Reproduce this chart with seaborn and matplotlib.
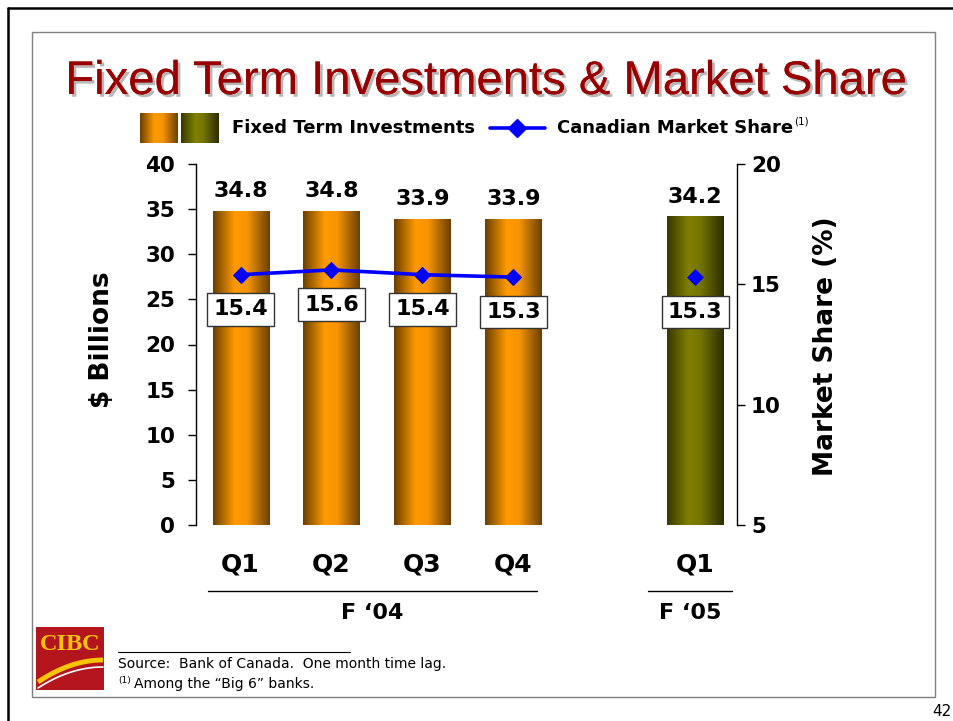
import numpy as np
import pandas as pd
import matplotlib
matplotlib.use('Agg')
import matplotlib.pyplot as plt
import seaborn as sns
from matplotlib.colors import LinearSegmentedColormap
from matplotlib.lines import Line2D
from matplotlib.patches import Rectangle
import matplotlib.patheffects as pe
import matplotlib.transforms as mtransforms

# ---------------- data ----------------
quarters = ['Q1', 'Q2', 'Q3', 'Q4', 'Q1']
positions = [0, 1, 2, 3, 5]
bar_period = ['F04', 'F04', 'F04', 'F04', 'F05']
investments = [34.8, 34.8, 33.9, 33.9, 34.2]
share_positions = [0, 1, 2, 3]
market_share = [15.4, 15.6, 15.4, 15.3]
share_positions_05 = [5]
market_share_05 = [15.3]
group_labels = ['F \u201804', 'F \u201805']
group_centers = [1.45, 4.94]
group_spans = [(-0.36, 3.26), (4.48, 5.40)]

# ---------------- style ----------------
sns.set_theme(style='white')
plt.rcParams['font.family'] = ['DejaVu Sans']
plt.rcParams['text.color'] = 'black'
plt.rcParams['axes.labelcolor'] = 'black'
plt.rcParams['xtick.color'] = 'black'
plt.rcParams['ytick.color'] = 'black'

W, H = 954, 721
fig = plt.figure(figsize=(W / 100, H / 100), dpi=100)
fig.patch.set_facecolor('white')


def fx(px):
    return px / W


def fy(py):
    return 1 - py / H


orange_cmap = LinearSegmentedColormap.from_list(
    'orng', [(0, '#6a3f00'), (0.38, '#ff9a00'), (0.6, '#f79400'), (1, '#6a3f00')])
olive_cmap = LinearSegmentedColormap.from_list(
    'olv', [(0, '#383800'), (0.38, '#808000'), (0.58, '#767600'), (1, '#2c2c00')])
cmaps = {'F04': orange_cmap, 'F05': olive_cmap}
grad = np.linspace(0, 1, 256).reshape(1, -1)

ax = fig.add_axes([fx(196), fy(525), fx(737) - fx(196), fy(164) - fy(525)])
df = pd.DataFrame({'pos': positions, 'val': investments})
sns.barplot(data=df, x='pos', y='val', native_scale=True, width=0.616,
            errorbar=None, color='#ff9900', saturation=1, ax=ax)

for patch, per in zip(ax.patches, bar_period):
    x0 = patch.get_x()
    w = patch.get_width()
    h = patch.get_height()
    patch.set_edgecolor('none')
    im = ax.imshow(grad, cmap=cmaps[per], extent=[x0, x0 + w, 0, h],
                   aspect='auto', zorder=patch.get_zorder() + 0.1,
                   interpolation='bicubic')
    im.set_clip_path(patch)

ax.set_xlim(-0.49, 5.46)
ax.set_ylim(0, 40)

for p, v in zip(positions, investments):
    ax.annotate(f'{v:.1f}', (p, v), xytext=(0, 7), textcoords='offset points',
                ha='center', va='bottom', fontsize=16, fontweight='bold',
                color='black')

ax.set_yticks(range(0, 45, 5))
ax.set_yticklabels([str(v) for v in range(0, 45, 5)], fontsize=15.5,
                   fontweight='bold')
ax.set_xticks(positions)
ax.set_xticklabels(quarters, fontsize=18, fontweight='bold')
ax.tick_params(axis='x', length=0, pad=20, bottom=False)
ax.tick_params(axis='y', left=True, direction='out', length=6, width=1,
               color='black', pad=9)
ax.set_xlabel('')
ax.set_ylabel('$ Billions', fontsize=19, fontweight='bold')
ax.yaxis.set_label_coords(-0.15, 0.512)
for s in ['top', 'right', 'bottom']:
    ax.spines[s].set_visible(False)
ax.spines['left'].set_color('black')
ax.spines['left'].set_linewidth(1)

# ---------------- secondary axis ----------------
ax2 = ax.twinx()
sns.lineplot(x=share_positions, y=market_share, ax=ax2, color='#0000ff',
             marker='D', markersize=8, linewidth=2.6, markeredgecolor='#0000ff')
sns.scatterplot(x=share_positions_05, y=market_share_05, ax=ax2,
                color='#0000ff', marker='D', s=64, edgecolor='#0000ff')
ax2.set_ylim(5, 20)
ax2.set_xlim(-0.49, 5.46)
ax2.set_yticks([5, 10, 15, 20])
ax2.set_yticklabels(['5', '10', '15', '20'], fontsize=15.5, fontweight='bold')
ax2.tick_params(axis='y', right=True, direction='out', length=6, width=1,
                color='black', pad=4)
ax2.set_ylabel('Market Share (%)', fontsize=19, fontweight='bold')
ax2.yaxis.set_label_coords(1.14, 0.494)
for s in ['top', 'left', 'bottom']:
    ax2.spines[s].set_visible(False)
ax2.spines['right'].set_color('black')
ax2.spines['right'].set_linewidth(1)

for p, v in zip(share_positions + share_positions_05, market_share + market_share_05):
    ax2.annotate(f'{v:.1f}', (p, v), xytext=(0, -25), textcoords='offset points',
                 ha='center', va='center', fontsize=16, fontweight='bold',
                 color='black', zorder=6,
                 bbox=dict(boxstyle='square,pad=0.28', fc='white', ec='#333333', lw=1))

# group brackets
trans = mtransforms.blended_transform_factory(ax.transData, ax.transAxes)
for lab, c, (a, b) in zip(group_labels, group_centers, group_spans):
    ax.plot([a, b], [-0.183, -0.183], transform=trans, color='black', lw=1,
            clip_on=False)
    ax.text(c, -0.244, lab, transform=trans, ha='center', va='center',
            fontsize=16, fontweight='bold', color='black')

# ---------------- title ----------------
fig.text(fx(486), fy(82), 'Fixed Term Investments & Market Share', ha='center',
         va='center', fontsize=34, color='#990000', family='Liberation Sans',
         path_effects=[pe.withSimplePatchShadow(offset=(2, -2),
                                                shadow_rgbFace='#999999', alpha=0.7),
                       pe.Normal()])

# ---------------- legend ----------------
for (x0, x1), cm in zip([(140, 178), (181, 219)], [orange_cmap, olive_cmap]):
    lax = fig.add_axes([fx(x0), fy(143), fx(x1) - fx(x0), fy(113) - fy(143)])
    lax.imshow(grad, cmap=cm, aspect='auto', interpolation='bicubic')
    lax.axis('off')
fig.text(fx(232), fy(128), 'Fixed Term Investments', ha='left', va='center',
         fontsize=13, fontweight='bold')
fig.add_artist(Line2D([fx(490), fx(545)], [fy(128), fy(128)], color='#0000ff',
                      lw=2.6, transform=fig.transFigure))
fig.add_artist(Line2D([fx(517)], [fy(128)], color='#0000ff', marker='D', ms=9,
                      transform=fig.transFigure))
t_cms = fig.text(fx(557), fy(128), 'Canadian Market Share', ha='left',
                 va='center', fontsize=13, fontweight='bold')
fig.canvas.draw()
r = fig.canvas.get_renderer()
bb = t_cms.get_window_extent(r)
fig.text(bb.x1 / W + fx(1), fy(121), '(1)', ha='left', va='center', fontsize=7.5)

# ---------------- footer ----------------
fig.add_artist(Rectangle((fx(36), fy(690)), fx(104) - fx(36), fy(627) - fy(690),
                         transform=fig.transFigure, fc='#b4151c', ec='none'))
fig.text(fx(70), fy(645), 'CIBC', ha='center', va='center', fontsize=17.5,
         fontweight='bold', family='Liberation Serif', color='#f7c600')
tt = np.linspace(0, 1, 40)
fig.add_artist(Line2D(fx(38 + 65 * tt), fy(682 - 22 * (1 - (1 - tt) ** 2)),
                      color='#f7c600', lw=3.5, transform=fig.transFigure,
                      solid_capstyle='butt'))
fig.add_artist(Line2D(fx(38 + 65 * tt), fy(688 - 21 * (1 - (1 - tt) ** 2)),
                      color='white', lw=1.2, transform=fig.transFigure))

fig.add_artist(Line2D([fx(118), fx(350)], [fy(652), fy(652)], color='black',
                      lw=0.8, transform=fig.transFigure))
fig.text(fx(118), fy(664), 'Source:  Bank of Canada.  One month time lag.',
         ha='left', va='center', fontsize=10)
t_fn = fig.text(fx(118), fy(681), '(1)', ha='left', va='center', fontsize=6.5)
fig.canvas.draw()
bb2 = t_fn.get_window_extent(fig.canvas.get_renderer())
fig.text(bb2.x1 / W + fx(3), fy(684), 'Among the \u201cBig 6\u201d banks.',
         ha='left', va='center', fontsize=10)

# ---------------- frames ----------------
fig.add_artist(Rectangle((fx(32), fy(697)), fx(935) - fx(32), fy(32) - fy(697),
                         transform=fig.transFigure, fill=False, ec='#7f7f7f', lw=1))
fig.add_artist(Line2D([fx(8), fx(8)], [0, fy(8)], color='black', lw=1.8,
                      transform=fig.transFigure))
fig.add_artist(Line2D([fx(8), 1], [fy(8), fy(8)], color='black', lw=1.8,
                      transform=fig.transFigure))
fig.text(fx(952), fy(712), '42', ha='right', va='center', fontsize=11)

fig.savefig('out.png', dpi=100)
